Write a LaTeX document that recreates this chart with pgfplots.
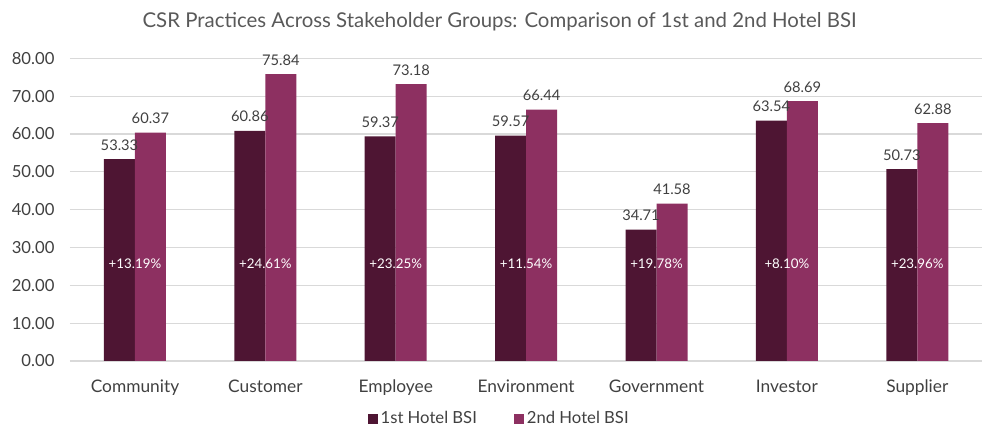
\documentclass[border=0pt]{standalone}
\usepackage{pgfplots}
\pgfplotsset{compat=1.18}
\usepackage{pgfplotstable}
\usepackage{fontspec}
\setmainfont{Lato}
\definecolor{darkbar}{HTML}{4E1533}
\definecolor{lightbar}{HTML}{8D3061}
\definecolor{txt}{HTML}{404040}
\definecolor{ttl}{HTML}{595959}
\definecolor{grid}{HTML}{D9D9D9}

\pgfplotstableread{
x v
0 53.33
1 60.86
2 59.37
3 59.57
4 34.71
5 63.54
6 50.73
}\first
\pgfplotstableread{
x v
0 60.37
1 75.84
2 73.18
3 66.44
4 41.58
5 68.69
6 62.88
}\second
\pgfplotstableread{
x v label
0 25.8 +13.19\%
1 25.8 +24.61\%
2 25.8 +23.25\%
3 25.8 +11.54\%
4 25.8 +19.78\%
5 25.8 +8.10\%
6 25.8 +23.96\%
}\pct

\begin{document}
\begin{tikzpicture}
\path[use as bounding box] (-52.35pt,-63.75pt) rectangle (697.65pt,270.75pt);
\begin{axis}[
  at={(0pt,0pt)}, anchor=south west,
  scale only axis,
  width=684.5pt, height=227pt,
  xmin=-0.5, xmax=6.5,
  ymin=0, ymax=80,
  ytick={0,10,...,80},
  xtick={0,...,6},
  xticklabels={Community,Customer,Employee,Environment,Government,Investor,Supplier},
  yticklabel={\pgfmathprintnumber[fixed,fixed zerofill,precision=2]{\tick}},
  /pgf/number format/assume math mode=true,
  ymajorgrids, xmajorgrids=false,
  grid style={draw=grid, line width=0.8pt},
  axis line style={draw=none},
  major tick length=0pt,
  tick style={draw=none},
  yticklabel style={font=\fontsize{12.5pt}{14pt}\selectfont, text=txt, xshift=-8pt},
  xticklabel style={font=\fontsize{13pt}{15pt}\selectfont, text=txt, yshift=-10.5pt},
  title={CSR Practices Across Stakeholder Groups: Comparison of 1st and 2nd Hotel BSI},
  title style={at={(0.471,1.095)}, anchor=center, font=\fontsize{15.3pt}{17pt}\selectfont, text=ttl},
  legend style={at={(0.471,-0.19)}, anchor=center, draw=none, fill=none,
    legend columns=2, font=\fontsize{12.5pt}{14pt}\selectfont, text=txt,
    /tikz/every even column/.append style={column sep=26pt}},
  legend image code/.code={\fill[#1] (0pt,-3.75pt) rectangle (7.5pt,3.75pt);},
  clip=false,
]
\addplot[ybar, bar width=23.25pt, bar shift=-11.625pt, fill=darkbar, draw=none,
  nodes near coords, nodes near coords style={font=\fontsize{11pt}{13pt}\selectfont, text=txt, yshift=3pt, xshift=-11.625pt, /pgf/number format/.cd, fixed, fixed zerofill, precision=2}]
  table[x=x,y=v]{\first};
\addlegendentry{1st Hotel BSI}
\addplot[ybar, bar width=23.25pt, bar shift=11.625pt, fill=lightbar, draw=none,
  nodes near coords, nodes near coords style={font=\fontsize{11pt}{13pt}\selectfont, text=txt, yshift=3pt, xshift=11.625pt, /pgf/number format/.cd, fixed, fixed zerofill, precision=2}]
  table[x=x,y=v]{\second};
\addlegendentry{2nd Hotel BSI}
\addplot[draw=none, mark=none, forget plot,
  nodes near coords, point meta=explicit symbolic,
  nodes near coords align={center},
  nodes near coords style={font=\fontsize{10pt}{12pt}\selectfont, text=white, anchor=center}]
  table[x=x,y=v,meta=label]{\pct};
\end{axis}
\end{tikzpicture}
\end{document}
